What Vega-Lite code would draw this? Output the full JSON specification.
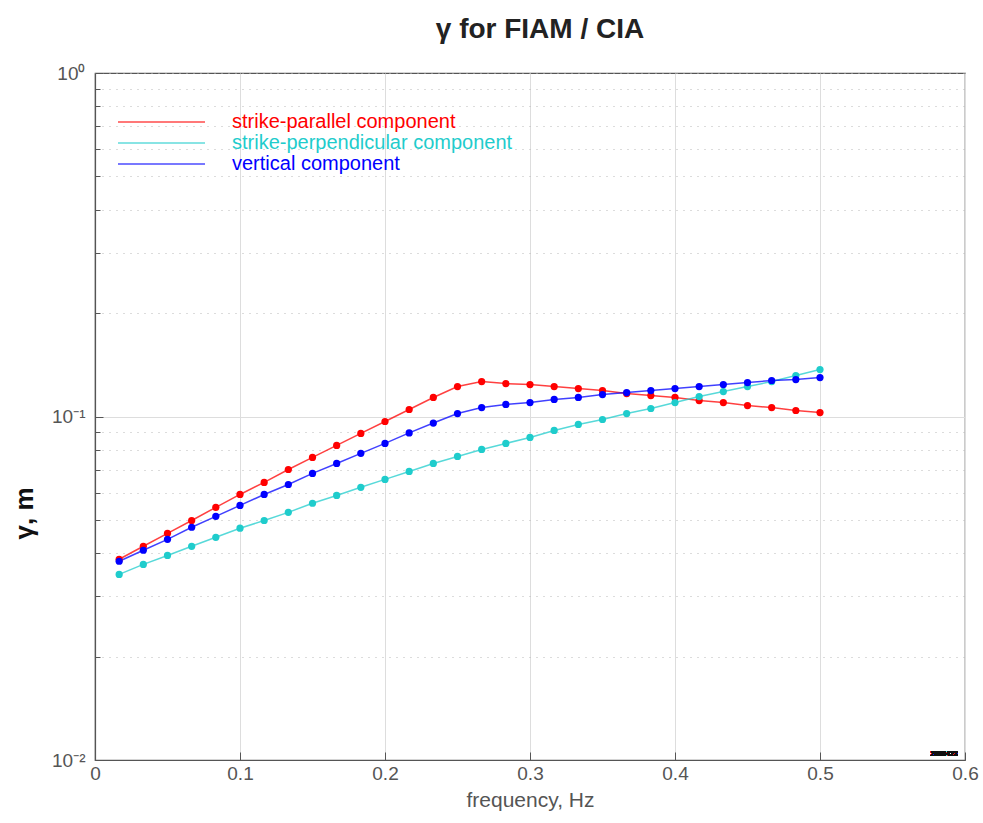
{
  "$schema": "https://vega.github.io/schema/vega-lite/v6.json",
  "width": 870,
  "height": 687,
  "autosize": {"type": "none"},
  "padding": {"left": 95, "top": 73, "right": 18, "bottom": 63},
  "background": "white",
  "config": {
    "font": "Liberation Sans",
    "view": {"stroke": "#555555", "strokeWidth": 1.2}
  },
  "title": {
    "text": "γ for FIAM / CIA",
    "fontSize": 28,
    "fontWeight": "bold",
    "color": "#222222",
    "anchor": "middle",
    "dx": 10,
    "offset": 20
  },
  "data": {
    "values": [
      {"f": 0.01667, "series": "strike-parallel component", "gamma": 0.0384},
      {"f": 0.03333, "series": "strike-parallel component", "gamma": 0.0419},
      {"f": 0.05, "series": "strike-parallel component", "gamma": 0.0457},
      {"f": 0.06667, "series": "strike-parallel component", "gamma": 0.0498},
      {"f": 0.08333, "series": "strike-parallel component", "gamma": 0.0544},
      {"f": 0.1, "series": "strike-parallel component", "gamma": 0.0593},
      {"f": 0.11667, "series": "strike-parallel component", "gamma": 0.0643},
      {"f": 0.13333, "series": "strike-parallel component", "gamma": 0.0701},
      {"f": 0.15, "series": "strike-parallel component", "gamma": 0.076},
      {"f": 0.16667, "series": "strike-parallel component", "gamma": 0.0824},
      {"f": 0.18333, "series": "strike-parallel component", "gamma": 0.0893},
      {"f": 0.2, "series": "strike-parallel component", "gamma": 0.0967},
      {"f": 0.21667, "series": "strike-parallel component", "gamma": 0.1048},
      {"f": 0.23333, "series": "strike-parallel component", "gamma": 0.1136},
      {"f": 0.25, "series": "strike-parallel component", "gamma": 0.1222},
      {"f": 0.26667, "series": "strike-parallel component", "gamma": 0.1264},
      {"f": 0.28333, "series": "strike-parallel component", "gamma": 0.1247},
      {"f": 0.3, "series": "strike-parallel component", "gamma": 0.1239},
      {"f": 0.31667, "series": "strike-parallel component", "gamma": 0.1222},
      {"f": 0.33333, "series": "strike-parallel component", "gamma": 0.1206},
      {"f": 0.35, "series": "strike-parallel component", "gamma": 0.119},
      {"f": 0.36667, "series": "strike-parallel component", "gamma": 0.1166},
      {"f": 0.38333, "series": "strike-parallel component", "gamma": 0.1151},
      {"f": 0.4, "series": "strike-parallel component", "gamma": 0.1136},
      {"f": 0.41667, "series": "strike-parallel component", "gamma": 0.1113},
      {"f": 0.43333, "series": "strike-parallel component", "gamma": 0.1098},
      {"f": 0.45, "series": "strike-parallel component", "gamma": 0.1076},
      {"f": 0.46667, "series": "strike-parallel component", "gamma": 0.1062},
      {"f": 0.48333, "series": "strike-parallel component", "gamma": 0.1041},
      {"f": 0.5, "series": "strike-parallel component", "gamma": 0.1027},
      {"f": 0.01667, "series": "strike-perpendicular component", "gamma": 0.0347},
      {"f": 0.03333, "series": "strike-perpendicular component", "gamma": 0.0371},
      {"f": 0.05, "series": "strike-perpendicular component", "gamma": 0.0394},
      {"f": 0.06667, "series": "strike-perpendicular component", "gamma": 0.0419},
      {"f": 0.08333, "series": "strike-perpendicular component", "gamma": 0.0445},
      {"f": 0.1, "series": "strike-perpendicular component", "gamma": 0.0473},
      {"f": 0.11667, "series": "strike-perpendicular component", "gamma": 0.0498},
      {"f": 0.13333, "series": "strike-perpendicular component", "gamma": 0.0526},
      {"f": 0.15, "series": "strike-perpendicular component", "gamma": 0.0559},
      {"f": 0.16667, "series": "strike-perpendicular component", "gamma": 0.0589},
      {"f": 0.18333, "series": "strike-perpendicular component", "gamma": 0.0622},
      {"f": 0.2, "series": "strike-perpendicular component", "gamma": 0.0656},
      {"f": 0.21667, "series": "strike-perpendicular component", "gamma": 0.0692},
      {"f": 0.23333, "series": "strike-perpendicular component", "gamma": 0.073},
      {"f": 0.25, "series": "strike-perpendicular component", "gamma": 0.0765},
      {"f": 0.26667, "series": "strike-perpendicular component", "gamma": 0.0802},
      {"f": 0.28333, "series": "strike-perpendicular component", "gamma": 0.0835},
      {"f": 0.3, "series": "strike-perpendicular component", "gamma": 0.0869},
      {"f": 0.31667, "series": "strike-perpendicular component", "gamma": 0.0911},
      {"f": 0.33333, "series": "strike-perpendicular component", "gamma": 0.0948},
      {"f": 0.35, "series": "strike-perpendicular component", "gamma": 0.098},
      {"f": 0.36667, "series": "strike-perpendicular component", "gamma": 0.102},
      {"f": 0.38333, "series": "strike-perpendicular component", "gamma": 0.1055},
      {"f": 0.4, "series": "strike-perpendicular component", "gamma": 0.1098},
      {"f": 0.41667, "series": "strike-perpendicular component", "gamma": 0.1143},
      {"f": 0.43333, "series": "strike-perpendicular component", "gamma": 0.1182},
      {"f": 0.45, "series": "strike-perpendicular component", "gamma": 0.1222},
      {"f": 0.46667, "series": "strike-perpendicular component", "gamma": 0.1264},
      {"f": 0.48333, "series": "strike-perpendicular component", "gamma": 0.1316},
      {"f": 0.5, "series": "strike-perpendicular component", "gamma": 0.137},
      {"f": 0.01667, "series": "vertical component", "gamma": 0.0379},
      {"f": 0.03333, "series": "vertical component", "gamma": 0.0408},
      {"f": 0.05, "series": "vertical component", "gamma": 0.0439},
      {"f": 0.06667, "series": "vertical component", "gamma": 0.0476},
      {"f": 0.08333, "series": "vertical component", "gamma": 0.0512},
      {"f": 0.1, "series": "vertical component", "gamma": 0.0551},
      {"f": 0.11667, "series": "vertical component", "gamma": 0.0593},
      {"f": 0.13333, "series": "vertical component", "gamma": 0.0634},
      {"f": 0.15, "series": "vertical component", "gamma": 0.0683},
      {"f": 0.16667, "series": "vertical component", "gamma": 0.073},
      {"f": 0.18333, "series": "vertical component", "gamma": 0.0781},
      {"f": 0.2, "series": "vertical component", "gamma": 0.0835},
      {"f": 0.21667, "series": "vertical component", "gamma": 0.0896},
      {"f": 0.23333, "series": "vertical component", "gamma": 0.0957},
      {"f": 0.25, "series": "vertical component", "gamma": 0.102},
      {"f": 0.26667, "series": "vertical component", "gamma": 0.1062},
      {"f": 0.28333, "series": "vertical component", "gamma": 0.1084},
      {"f": 0.3, "series": "vertical component", "gamma": 0.1098},
      {"f": 0.31667, "series": "vertical component", "gamma": 0.1121},
      {"f": 0.33333, "series": "vertical component", "gamma": 0.1136},
      {"f": 0.35, "series": "vertical component", "gamma": 0.1158},
      {"f": 0.36667, "series": "vertical component", "gamma": 0.1174},
      {"f": 0.38333, "series": "vertical component", "gamma": 0.119},
      {"f": 0.4, "series": "vertical component", "gamma": 0.1206},
      {"f": 0.41667, "series": "vertical component", "gamma": 0.1222},
      {"f": 0.43333, "series": "vertical component", "gamma": 0.1239},
      {"f": 0.45, "series": "vertical component", "gamma": 0.1255},
      {"f": 0.46667, "series": "vertical component", "gamma": 0.1273},
      {"f": 0.48333, "series": "vertical component", "gamma": 0.1281},
      {"f": 0.5, "series": "vertical component", "gamma": 0.1298}
    ]
  },
  "encoding": {
    "x": {
      "field": "f",
      "type": "quantitative",
      "scale": {"domain": [0, 0.6], "nice": false, "zero": false},
      "axis": {
        "title": "frequency, Hz",
        "titleFontSize": 21,
        "titleFontWeight": "normal",
        "titleColor": "#555555",
        "titlePadding": 6,
        "values": [0, 0.1, 0.2, 0.3, 0.4, 0.5, 0.6],
        "format": "~g",
        "labelFlush": false,
        "labelFontSize": 19,
        "labelColor": "#555555",
        "labelPadding": 12,
        "tickSize": -8,
        "tickColor": "#555555",
        "domainColor": "#555555",
        "domainWidth": 1.2,
        "grid": true,
        "gridColor": "#dddddd",
        "gridWidth": 1
      }
    },
    "y": {
      "field": "gamma",
      "type": "quantitative",
      "scale": {"type": "log", "domain": [0.01, 1], "nice": false},
      "axis": {
        "title": "γ, m",
        "titleFontSize": 26,
        "titleFontWeight": "bold",
        "titleColor": "#111111",
        "titleAngle": -90,
        "titleX": -58,
        "titleY": 440,
        "values": [0.01, 0.02, 0.03, 0.04, 0.05, 0.06, 0.07, 0.08, 0.09, 0.1, 0.2, 0.3, 0.4, 0.5, 0.6, 0.7, 0.8, 0.9, 1],
        "labelExpr": "datum.value > 0.99 ? '10⁰' : (abs(datum.value - 0.1) < 1e-9 ? '10⁻¹' : (abs(datum.value - 0.01) < 1e-9 ? '10⁻²' : ''))",
        "labelFlush": false,
        "labelFontSize": 19,
        "labelColor": "#555555",
        "labelPadding": 18,
        "tickColor": "#555555",
        "tickSize": {"condition": {"test": "datum.value > 0.99 || abs(datum.value - 0.1) < 1e-9 || abs(datum.value - 0.01) < 1e-9", "value": -8}, "value": -5},
        "domainColor": "#555555",
        "domainWidth": 1.2,
        "grid": true,
        "gridColor": {"condition": {"test": "abs(datum.value - 0.1) < 1e-9", "value": "#dddddd"}, "value": "#b8b8b8"},
        "gridDash": {"condition": {"test": "abs(datum.value - 0.1) < 1e-9", "value": []}, "value": [1, 6]},
        "gridWidth": 1
      }
    },
    "color": {
      "field": "series",
      "type": "nominal",
      "scale": {
        "domain": ["strike-parallel component", "strike-perpendicular component", "vertical component"],
        "range": ["#ff0000", "#1fcccc", "#0000ff"]
      },
      "legend": {
        "title": null,
        "orient": "none",
        "legendX": 56.5,
        "legendY": 39,
        "padding": 0,
        "symbolType": "M-8.7,0H8.7",
        "symbolSize": 100,
        "symbolStrokeWidth": 1.5,
        "symbolOpacity": 0.7,
        "symbolFillColor": "transparent",
        "rowPadding": 1,
        "labelOffset": 60.5,
        "labelFontSize": 20,
        "labelColor": {"expr": "datum.value == 'strike-parallel component' ? '#ff0000' : (datum.value == 'vertical component' ? '#0000ff' : '#1fcccc')"},
        "labelLimit": 400
      }
    }
  },
  "layer": [
    {"mark": {"type": "line", "strokeWidth": 1.5, "strokeOpacity": 0.75}},
    {"mark": {"type": "point", "filled": true, "size": 52, "opacity": 1}},
    {
      "mark": {"type": "text", "text": "2036423", "fontSize": 7, "fontWeight": "bold", "align": "right", "baseline": "middle"},
      "encoding": {
        "x": {"datum": 0.595},
        "y": {"datum": 0.0104},
        "color": {"value": "#111111"}
      }
    }
  ]
}
